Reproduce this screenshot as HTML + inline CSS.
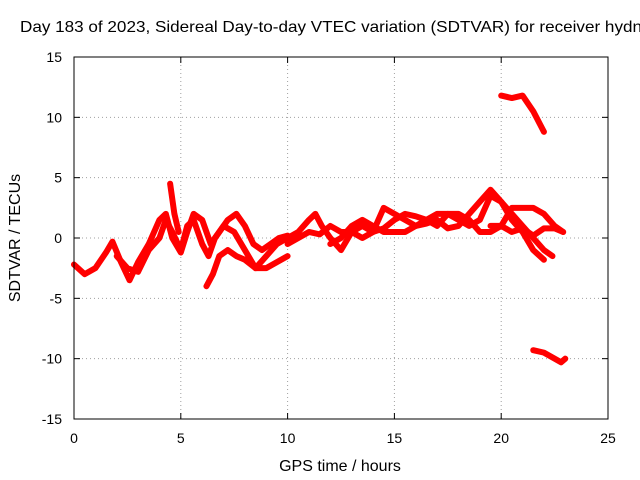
<!DOCTYPE html>
<html><head><meta charset="utf-8"><style>
body{margin:0;background:#fff}
svg{display:block;font-family:"Liberation Sans",sans-serif}
</style></head><body>
<svg id="chart" width="640" height="480">
<rect width="640" height="480" fill="#fff"/>
<text x="20" y="32" font-size="16" textLength="622" lengthAdjust="spacingAndGlyphs" fill="#000">Day 183 of 2023, Sidereal Day-to-day VTEC variation (SDTVAR) for receiver hydn</text>
<g id="grid"></g><g id="ticks"></g><g id="series"></g>
<rect x="74" y="57" width="534" height="362" fill="none" stroke="#000" stroke-width="1"/>
<text transform="translate(20,238) rotate(-90)" text-anchor="middle" font-size="16">SDTVAR / TECUs</text>
<text x="340" y="471" text-anchor="middle" font-size="16">GPS time / hours</text>
</svg>
<script>
const xTicks=[0,5,10,15,20,25];
const yTicks=[-15,-10,-5,0,5,10,15];
const track1=[[0,-2.2],[0.5,-3],[1,-2.5],[1.5,-1.2],[1.8,-0.3],[2.2,-2],[2.6,-3.5],[3,-2],[3.5,-0.5],[4,1.5],[4.3,2],[4.6,0],[5,-1.2],[5.3,0.5],[5.6,2],[6,1.5],[6.4,-0.5],[6.8,0.5],[7.2,1.5],[7.6,2],[8,1],[8.4,-0.5],[8.8,-1],[9.2,-0.5],[9.6,0],[10,0.2]];
const track2=[[2,-1.5],[2.5,-2.5],[3,-2.8],[3.5,-1],[4,0],[4.3,1.5],[4.6,0.5],[5,-1],[5.3,1],[5.6,1.5],[6,-0.5],[6.3,-1.5],[6.6,0],[7,1],[7.5,0.5],[8,-1],[8.5,-2.5],[9,-1.5],[9.5,-0.5],[10,0],[10.5,0.5],[11,1.5],[11.3,2],[11.6,1],[12,0],[12.5,-1],[13,0.5],[13.5,1],[14,0.5],[14.5,0.8],[15,1.5],[15.5,2],[16,1.8],[16.5,1.5],[17,2],[17.5,2],[18,1.5],[18.5,1],[19,1.5],[19.5,3.5],[20,3],[20.5,1.5],[21,0.5],[21.5,-1],[22,-1.8]];
const track3=[[6.2,-4],[6.5,-3],[6.8,-1.5],[7.2,-1],[7.6,-1.5],[8,-1.8],[8.5,-2.5],[9,-2.5],[9.5,-2],[10,-1.5]];
const track4=[[10,-0.5],[10.5,0],[11,0.5],[11.5,0.3],[12,1],[12.5,0.5],[13,0.5],[13.5,0],[14,0.5],[14.5,2.5],[15,2],[15.5,1.5],[16,1],[16.5,1.2],[17,1.5],[17.5,0.8],[18,1],[18.5,2],[19,3],[19.5,4],[20,3],[20.5,2],[21,1],[21.5,0],[22,-1],[22.4,-1.5]];
const track5=[[12,-0.5],[12.5,0],[13,1],[13.5,1.5],[14,1],[14.5,0.5],[15,0.5],[15.5,0.5],[16,1],[16.5,1.5],[17,1],[17.5,2],[18,2],[18.5,1.5],[19,0.5],[19.5,0.5],[20,1],[20.5,2.5],[21,2.5],[21.5,2.5],[22,2],[22.5,1],[22.9,0.5]];
const track6=[[4.5,4.5],[4.7,2],[4.9,0.5]];
const track7=[[20,11.8],[20.5,11.6],[21,11.8],[21.5,10.5],[22,8.8]];
const track8=[[21.5,-9.3],[22,-9.5],[22.5,-10],[22.8,-10.3],[23,-10]];
const track9=[[19.5,1],[20,1],[20.5,0.5],[21,0.8],[21.5,0.2],[22,0.8],[22.5,0.8],[22.9,0.5]];
const tracks=[track1,track2,track3,track4,track5,track6,track7,track8,track9];
const NS='http://www.w3.org/2000/svg';
const X=v=>74+v*(534/25), Y=v=>238-v*(362/30);
const grid=document.getElementById('grid'), ticks=document.getElementById('ticks'), ser=document.getElementById('series');
function mk(tag,attrs,parent){const e=document.createElementNS(NS,tag);for(const k in attrs)e.setAttribute(k,attrs[k]);parent.appendChild(e);return e;}
xTicks.forEach(t=>{
 const g=mk('line',{x1:X(t),x2:X(t),y1:57,y2:419,stroke:'#a0a0a0','stroke-dasharray':'1,3'},grid);
 
 
 mk('line',{x1:X(t),x2:X(t),y1:419,y2:413,stroke:'#000'},ticks);
 mk('line',{x1:X(t),x2:X(t),y1:57,y2:63,stroke:'#000'},ticks);
 const l=mk('text',{x:X(t),y:443,'text-anchor':'middle','font-size':14},ticks);
 l.textContent=t;
 
 
});
yTicks.forEach(t=>{
 const g=mk('line',{x1:74,x2:608,y1:Y(t),y2:Y(t),stroke:'#a0a0a0','stroke-dasharray':'1,3'},grid);
 
 
 mk('line',{x1:74,x2:80,y1:Y(t),y2:Y(t),stroke:'#000'},ticks);
 mk('line',{x1:602,x2:608,y1:Y(t),y2:Y(t),stroke:'#000'},ticks);
 const l=mk('text',{x:62,y:Y(t)+5,'text-anchor':'end','font-size':14},ticks);
 l.textContent=t;
 
 
});
tracks.forEach((tr,i)=>{
 const p=mk('polyline',{points:tr.map(d=>X(d[0])+','+Y(d[1])).join(' '),fill:'none',stroke:'#f00','stroke-width':6,'stroke-linejoin':'round','stroke-linecap':'round'},ser);
 
 
});
</script>
</body></html>
